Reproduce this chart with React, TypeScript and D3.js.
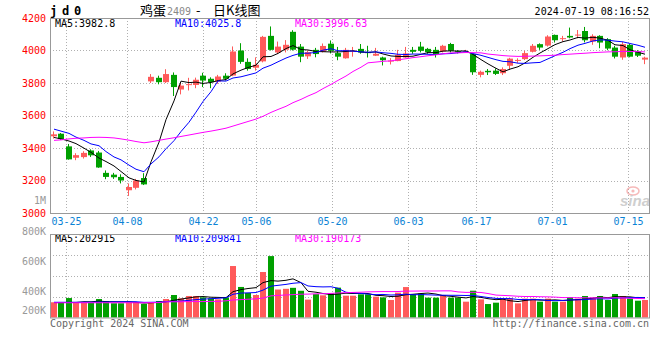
import { useMemo } from 'react';
import { scaleBand, scaleLinear, scalePoint, line, mean, range } from 'd3';

// trading days shown on the chart (jd2409, daily)
const dates = [
  '03-21', '03-22', '03-25', '03-26', '03-27', '03-28', '03-29', '04-01', '04-02', '04-03',
  '04-08', '04-09', '04-10', '04-11', '04-12', '04-15', '04-16', '04-17', '04-18', '04-19',
  '04-22', '04-23', '04-24', '04-25', '04-26', '04-29', '04-30', '05-06', '05-07', '05-08',
  '05-09', '05-10', '05-13', '05-14', '05-15', '05-16', '05-17', '05-20', '05-21', '05-22',
  '05-23', '05-24', '05-27', '05-28', '05-29', '05-30', '05-31', '06-03', '06-04', '06-05',
  '06-06', '06-07', '06-11', '06-12', '06-13', '06-14', '06-17', '06-18', '06-19', '06-20',
  '06-21', '06-24', '06-25', '06-26', '06-27', '06-28', '07-01', '07-02', '07-03', '07-04',
  '07-05', '07-08', '07-09', '07-10', '07-11', '07-12', '07-15', '07-16', '07-17', '07-18',
];

const opens = [
  3472, 3488, 3410, 3340, 3344, 3385, 3372, 3247, 3236, 3222,
  3140, 3155, 3215, 3810, 3832, 3805, 3850, 3760, 3790, 3788,
  3845, 3826, 3808, 3845, 3846, 4000, 3930, 3894, 3933, 4090,
  3988, 4005, 4115, 4024, 3964, 4004, 3992, 4042, 3984, 3952,
  3996, 4010, 3990, 3968, 3957, 3935, 3935, 3957, 4004, 4024,
  4010, 4004, 3994, 4040, 3996, 3990, 3978, 3850, 3875, 3876,
  3860, 3906, 3939, 3947, 3992, 4039, 4030, 4096, 4073, 4090,
  4094, 4120, 4055, 4090, 4070, 4018, 3957, 4035, 3994, 3944,
];

const highs = [
  3502, 3492, 3425, 3368, 3380, 3392, 3382, 3262, 3247, 3238,
  3182, 3210, 3245, 3855, 3845, 3885, 3865, 3805, 3832, 3833,
  3863, 3835, 3850, 3860, 4025, 4045, 3952, 3958, 4090, 4148,
  4055, 4064, 4125, 4040, 4000, 4016, 4043, 4062, 4022, 4016,
  4022, 4040, 4029, 4016, 3962, 3953, 4004, 4022, 4022, 4053,
  4016, 4022, 4035, 4047, 4002, 4004, 3982, 3876, 3886, 3890,
  3896, 3955, 3952, 3998, 4040, 4044, 4094, 4098, 4090, 4141,
  4126, 4145, 4100, 4094, 4076, 4029, 4053, 4040, 4002, 3962,
];

const lows = [
  3458, 3450, 3328, 3325, 3335, 3345, 3278, 3208, 3210, 3182,
  3105, 3145, 3172, 3800, 3792, 3800, 3720, 3730, 3754, 3768,
  3775, 3768, 3795, 3815, 3842, 3918, 3876, 3876, 3927, 4000,
  3978, 3988, 4000, 3928, 3948, 3958, 3988, 3982, 3940, 3950,
  3962, 3980, 3957, 3966, 3908, 3914, 3934, 3956, 3980, 3988,
  3980, 3957, 3988, 3988, 3982, 3986, 3850, 3835, 3849, 3849,
  3849, 3880, 3924, 3941, 3988, 4004, 4024, 4049, 4055, 4075,
  4075, 4050, 4035, 4014, 4002, 3951, 3943, 3958, 3960, 3916,
];

const closes = [
  3484, 3455, 3330, 3356, 3370, 3355, 3280, 3222, 3220, 3200,
  3160, 3200, 3176, 3838, 3805, 3855, 3775, 3784, 3793, 3820,
  3815, 3805, 3840, 3826, 3994, 3930, 3886, 3912, 4084, 4004,
  4024, 4035, 4005, 3962, 3990, 3978, 4028, 3998, 3962, 4004,
  3999, 3988, 3986, 3980, 3940, 3938, 3973, 3982, 3992, 3998,
  3990, 3973, 4029, 3998, 3992, 3995, 3866, 3869, 3866, 3856,
  3886, 3950, 3942, 3984, 4029, 4018, 4086, 4063, 4076, 4080,
  4098, 4063, 4090, 4049, 4012, 3962, 4039, 3962, 3968, 3956,
];

const volumes = [
  155000, 150000, 198000, 150000, 150000, 150000, 188000, 168000, 145000, 145000,
  155000, 155000, 138000, 155000, 168000, 188000, 229000, 195000, 219000, 219000,
  205000, 195000, 185000, 205000, 524000, 311000, 250000, 229000, 463000, 625000,
  285000, 292000, 302000, 272000, 182000, 238000, 226000, 246000, 304000, 222000,
  222000, 236000, 236000, 212000, 205000, 178000, 253000, 310000, 236000, 243000,
  202000, 202000, 229000, 202000, 202000, 161000, 273000, 185000, 137000, 151000,
  185000, 195000, 144000, 192000, 192000, 161000, 192000, 161000, 161000, 208000,
  192000, 219000, 202000, 219000, 178000, 239000, 219000, 195000, 171000, 178000,
];

// moving-average values for the first days, whose windows reach before the chart
const ma5Lead = [3465, 3456, 3443, 3427];
const ma10Lead = [3516, 3504, 3490, 3467, 3447, 3425, 3414, 3378, 3345];
const ma30Lead = [
  3447, 3450, 3456, 3460, 3462, 3465, 3466, 3465, 3462, 3456,
  3448, 3440, 3432, 3438, 3447, 3455, 3463, 3471, 3480, 3488,
  3496, 3504, 3512, 3522, 3535, 3550, 3563, 3578, 3595,
];
const volMa5Lead = [152000, 152000, 153000, 153000];
const volMa10Lead = [155000, 155000, 155000, 155000, 156000, 156000, 157000, 158000, 159000];
const volMa30Lead = [
  150000, 150000, 150000, 150000, 150000, 150000, 150000, 150000, 150000, 150000,
  150000, 150000, 150000, 152000, 152000, 160000, 160000, 160000, 162000, 162000,
  162000, 164000, 164000, 170000, 178000, 182000, 186000, 190000, 198000,
];

const priceTicks = [3000, 3200, 3400, 3600, 3800, 4000, 4200];
const dateTicks = ['03-25', '04-08', '04-22', '05-06', '05-20', '06-03', '06-17', '07-01', '07-15'];
const volTicks = [800000, 600000, 400000, 200000];
const volTickLabels = ['800K', '600K', '400K', '200K'];

const priceMaLabels = ['MA5:3982.8', 'MA10:4025.8', 'MA30:3996.63'];
const volMaLabels = ['MA5:202915', 'MA10:209841', 'MA30:190173'];
const maColors = ['#000000', '#0000ff', '#ff00ff'];

const UP = '#ff5a5a';
const DOWN = '#00a000';
const MONO = '"DejaVu Sans Mono", monospace';
const CJK = '"Noto Sans CJK SC", sans-serif';

const left = 50;
const right = 649;
const priceTop = 18;
const priceBottom = 213;
const volTop = 234;
const volBottom = 317.5;

const movingAvg = (vals: number[], n: number, lead: number[]) =>
  vals.map((_, i) => (i < lead.length ? lead[i] : (mean(vals.slice(i - n + 1, i + 1)) as number)));

const App = () => {
  const x = useMemo(
    () => scaleBand<string>().domain(dates).range([left, right]).paddingInner(0.2).paddingOuter(0.1),
    []
  );
  const gridX = useMemo(() => scalePoint<string>().domain(dates).range([50.5, 651]), []);
  const y = useMemo(() => scaleLinear().domain([3000, 4200]).range([priceBottom, priceTop]), []);
  const yVol = useMemo(() => scaleLinear().domain([0, 850000]).range([volBottom, volTop]), []);
  const yVolLabel = useMemo(() => scaleLinear().domain([400000, 800000]).range([294.5, 234.5]), []);

  const priceMas = useMemo(
    () => [movingAvg(closes, 5, ma5Lead), movingAvg(closes, 10, ma10Lead), movingAvg(closes, 30, ma30Lead)],
    []
  );
  const volMas = useMemo(
    () => [movingAvg(volumes, 5, volMa5Lead), movingAvg(volumes, 10, volMa10Lead), movingAvg(volumes, 30, volMa30Lead)],
    []
  );

  const cx = (i: number) => Math.round(x(dates[i]) as number) + 3;
  const priceLine = line<number>().x((_, i) => cx(i)).y((d) => y(d));
  const volLine = line<number>().x((_, i) => cx(i)).y((d) => yVol(d));

  const grid = { stroke: '#b0b0b0', strokeDasharray: '1,2', strokeWidth: 1 };

  return (
    <svg width={660} height={360} style={{ position: 'absolute', left: 0, top: 0, background: '#fff' }}>
      {/* header */}
      <text x={50} y={15} fontFamily={MONO} fontSize={12} fontWeight="bold" letterSpacing={4.8}>
        jd0
      </text>
      <text y={15} fontSize={13} fontFamily={CJK}>
        <tspan x={140}>鸡蛋</tspan>
        <tspan x={167} fontFamily={MONO} fontSize={10} fill="#888">2409</tspan>
        <tspan x={196}>-</tspan>
        <tspan x={213}>日K线图</tspan>
      </text>
      <text x={649} y={15} textAnchor="end" fontFamily={MONO} fontSize={10}>
        2024-07-19 08:16:52
      </text>

      {/* grid */}
      {priceTicks.slice(1, -1).map((t) => (
        <line key={t} x1={left} x2={right} y1={Math.round(y(t)) + 0.5} y2={Math.round(y(t)) + 0.5} {...grid} />
      ))}
      {range(1, 4).map((k) => {
        const gy = Math.round(volTop + (k * (volBottom - volTop)) / 4) + 0.5;
        return <line key={k} x1={left} x2={right} y1={gy} y2={gy} {...grid} />;
      })}
      {dateTicks.map((d) => {
        const gx = Math.round(gridX(d) as number) + 0.5;
        return (
          <g key={d}>
            <line x1={gx} x2={gx} y1={priceTop} y2={priceBottom} {...grid} />
            <line x1={gx} x2={gx} y1={volTop} y2={volBottom} {...grid} />
            <text x={gx} y={225} textAnchor="middle" fontFamily={MONO} fontSize={10} fill="#0b83d5">
              {d}
            </text>
          </g>
        );
      })}

      {/* sina watermark */}
      <g opacity={0.55}>
        <ellipse cx={633} cy={191} rx={6} ry={4} fill="none" stroke="#f08080" strokeWidth={1.5} />
        <circle cx={633} cy={191} r={1.6} fill="#f08080" />
        <text x={650} y={206} textAnchor="end" fontFamily="Verdana, sans-serif" fontSize={15} fontStyle="italic" fontWeight="bold" fill="#a8a8a8">
          sina
        </text>
      </g>

      {/* price axis */}
      {priceTicks.map((t) => (
        <text key={t} x={46} y={y(t)} dy="0.35em" textAnchor="end" fontFamily={MONO} fontSize={10} fill="#ff0000">
          {t}
        </text>
      ))}
      <text x={46} y={204} textAnchor="end" fontFamily={MONO} fontSize={10} fill="#999">
        1M
      </text>

      {/* candles */}
      {dates.map((d, i) => {
        const o = opens[i];
        const c = closes[i];
        const color = c >= o ? UP : DOWN;
        const bx = Math.round(x(d) as number);
        const top = y(Math.max(o, c));
        const h = Math.max(1, Math.abs(y(o) - y(c)));
        return (
          <g key={d}>
            <line x1={bx + 2.5} x2={bx + 2.5} y1={y(highs[i])} y2={y(lows[i])} stroke={color} />
            <rect x={bx} y={top} width={6} height={h} fill={color} />
          </g>
        );
      })}

      {/* price moving averages */}
      {priceMas.map((m, k) => (
        <path key={k} d={priceLine(m) ?? ''} fill="none" stroke={maColors[k]} strokeWidth={1} />
      ))}

      {priceMaLabels.map((t, k) => (
        <text key={t} x={55 + k * 120} y={27} fontFamily={MONO} fontSize={10} fill={maColors[k]}>
          {t}
        </text>
      ))}

      {/* volume */}
      {dates.map((d, i) => {
        const color = closes[i] >= opens[i] ? UP : DOWN;
        const bx = Math.round(x(d) as number);
        return <rect key={d} x={bx} y={yVol(volumes[i])} width={6} height={volBottom - yVol(volumes[i])} fill={color} />;
      })}
      {volMas.map((m, k) => (
        <path key={k} d={volLine(m) ?? ''} fill="none" stroke={maColors[k]} strokeWidth={1} />
      ))}
      {volMaLabels.map((t, k) => (
        <text key={t} x={55 + k * 120} y={241.5} fontFamily={MONO} fontSize={10} fill={maColors[k]}>
          {t}
        </text>
      ))}
      {volTicks.map((v, k) => (
        <text key={v} x={46} y={Math.min(yVolLabel(v), 314)} textAnchor="end" fontFamily={MONO} fontSize={10} fill="#999">
          {volTickLabels[k]}
        </text>
      ))}

      {/* frames */}
      <rect x={left + 0.5} y={priceTop + 0.5} width={right - left} height={priceBottom - priceTop} fill="none" stroke="#999" />
      <rect x={left + 0.5} y={volTop + 0.5} width={right - left} height={volBottom - volTop} fill="none" stroke="#999" />

      {/* footer */}
      <text x={50} y={327} fontFamily={MONO} fontSize={10} fill="#666">
        Copyright 2024 SINA.COM
      </text>
      <text x={649} y={327} textAnchor="end" fontFamily={MONO} fontSize={10} fill="#666">
        http://finance.sina.com.cn
      </text>
    </svg>
  );
};

export default App;
